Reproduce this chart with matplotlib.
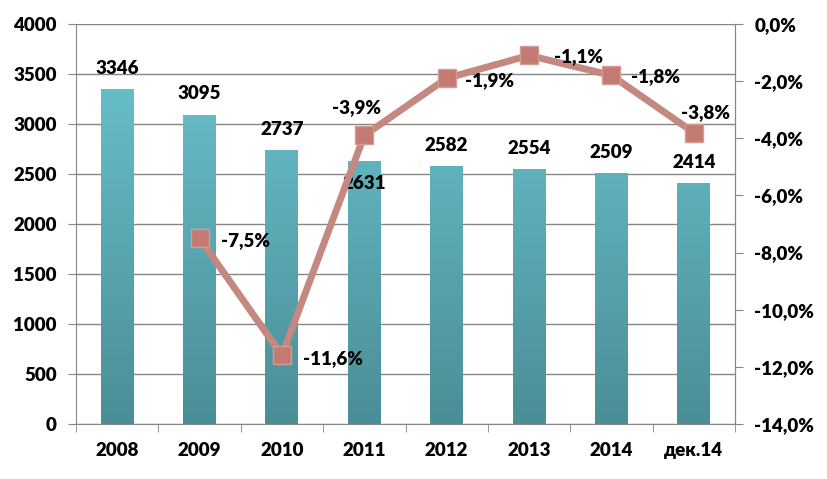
import matplotlib
matplotlib.use("Agg")
import matplotlib.pyplot as plt
from matplotlib import font_manager
import numpy as np
from matplotlib.ticker import FuncFormatter, MultipleLocator
from matplotlib.colors import LinearSegmentedColormap

fam = 'Open Sans'
for f in font_manager.fontManager.ttflist:
    if f.name == 'Lato' and f.weight in (700, 'bold'):
        fam = 'Lato'
        break
plt.rcParams['font.family'] = [fam, 'DejaVu Sans']

categories = ["2008", "2009", "2010", "2011", "2012", "2013", "2014", "дек.14"]
values = [3346, 3095, 2737, 2631, 2582, 2554, 2509, 2414]
growth = [np.nan, -7.5, -11.6, -3.9, -1.9, -1.1, -1.8, -3.8]
growth_labels = ["", "-7,5%", "-11,6%", "-3,9%", "-1,9%", "-1,1%", "-1,8%", "-3,8%"]

fig = plt.figure(figsize=(8.27, 4.79), dpi=100)
ax = fig.add_axes([76/827, 1-424/479, (735-76)/827, 400/479])
x = np.arange(len(categories))

FS = 13.5
FW = 'heavy'
grid_c = "#868686"
ax.set_xlim(-0.5, len(categories) - 0.5)
ax.set_ylim(0, 4000)
ax.yaxis.set_major_locator(MultipleLocator(500))
ax.grid(axis='y', color=grid_c, lw=1)
ax.set_axisbelow(True)

bars = ax.bar(x, values, width=0.4, color="#5eafb9", zorder=2)
grad = np.linspace(0, 1, 256).reshape(-1, 1)
cmap = LinearSegmentedColormap.from_list("g", ["#4a8e97", "#6cc6d1"])
for b in bars:
    bx, w = b.get_x(), b.get_width()
    im = ax.imshow(grad, cmap=cmap, origin='lower', aspect='auto',
                   extent=[bx, bx + w, 0, 4000], zorder=2.1)
    im.set_clip_path(b)

ax.spines['top'].set_visible(False)
for s in ['left', 'bottom', 'right']:
    ax.spines[s].set_color(grid_c)

ax.set_xticks(x)
ax.set_xticklabels(categories, fontsize=FS, fontweight=FW)
ax.tick_params(axis='x', length=0, pad=13)
ax.set_xticks(np.arange(-0.5, len(categories)), minor=True)
ax.tick_params(axis='x', which='minor', length=6, color=grid_c, direction='out')
ax.tick_params(axis='y', length=6, color=grid_c, labelsize=FS, pad=8)
for t in ax.get_yticklabels():
    t.set_fontweight(FW)

bar_off = [-21, -21, -21, 23, -20, -20, -21, -20]
for xi, v, off in zip(x, values, bar_off):
    ax.annotate(str(v), (xi, v), xytext=(0, -off), textcoords='offset pixels',
                ha='center', va='center', fontsize=FS, fontweight=FW, zorder=5)

ax2 = ax.twinx()
ax2.set_ylim(-14, 0)
ax2.yaxis.set_major_locator(MultipleLocator(2))
ax2.yaxis.set_major_formatter(FuncFormatter(lambda v, p: f"{v:.1f}%".replace('.', ',').replace('-0,0', '0,0')))
for s in ['top', 'left', 'bottom']:
    ax2.spines[s].set_visible(False)
ax2.spines['right'].set_color(grid_c)
ax2.tick_params(axis='y', length=6, color=grid_c, labelsize=FS, pad=8)
for t in ax2.get_yticklabels():
    t.set_fontweight(FW)

ax2.plot(x, growth, color="#c48880", lw=5, solid_capstyle='round', zorder=3,
         marker='s', markersize=12.5, markerfacecolor="#c27a72",
         markeredgecolor="#d59c94", markeredgewidth=1)

lab_off = [(0, 0), (46, -2), (51, -3), (-8, 28), (43, -2), (49, -1), (44, -1), (12, 20)]
for xi, g, lab, (dx, dy) in zip(x, growth, growth_labels, lab_off):
    if lab:
        ax2.annotate(lab, (xi, g), xytext=(dx, dy), textcoords='offset pixels',
                     ha='center', va='center', fontsize=FS, fontweight=FW, zorder=6)

fig.savefig("out.png", dpi=100)
